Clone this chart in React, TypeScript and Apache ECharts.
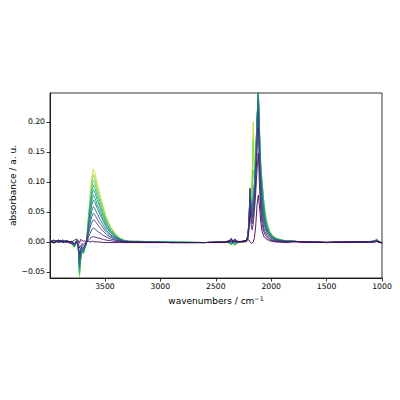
import React, { useEffect, useRef } from "react";
import * as echarts from "echarts";

// wavenumber grid (cm^-1), descending
const wavenumbers = [
  3996, 3960, 3920, 3880, 3840, 3800, 3775, 3755, 3740, 3730, 3720, 3708, 3695, 3680, 3668, 3650, 3635, 3620, 3605, 3590, 3570, 3545, 3515, 3485, 3450, 3410, 3370, 3330, 3290,
  3200, 2900, 2600, 2420, 2380, 2360, 2345, 2330, 2300, 2260,
  2225, 2210, 2200, 2191, 2182, 2172, 2162, 2152, 2140, 2128, 2116, 2106, 2095, 2082, 2068, 2052, 2035, 2015, 1990, 1960, 1920, 1870,
  1800, 1650, 1500, 1350, 1200, 1080, 1060, 1048, 1030, 1000,
];

const spectrum00 = [
  0.001, -0.002, 0.002, -0.001, 0.001, 0.0, 0.003, 0.005, 0.002, -0.002, 0.004, 0.003, 0.001, 0.002, 0.0, 0.001, 0.0, 0.001, 0.001, 0.0, 0.0, 0.0, -0.001, -0.001, -0.001, -0.001, -0.001, -0.001, -0.001,
  -0.001, -0.001, -0.001, -0.001, 0.0, 0.001, 0.0, 0.001, 0.0, 0.001,
  0.002, 0.004, 0.003, 0.0, -0.002, -0.002, 0.0, 0.006, 0.025, 0.062, 0.078, 0.06, 0.035, 0.018, 0.01, 0.006, 0.004, 0.002, 0.001, 0.0, 0.0, -0.001,
  0.0, -0.001, 0.0, -0.001, 0.0, 0.0, 0.0, 0.001, 0.0, -0.001,
];
const spectrum01 = [
  0.002, -0.001, 0.003, 0.0, 0.002, -0.002, -0.002, 0.001, -0.003, -0.01, -0.006, -0.003, -0.004, -0.002, -0.001, 0.003, 0.006, 0.008, 0.009, 0.008, 0.007, 0.006, 0.004, 0.003, 0.002, 0.001, 0.001, 0.0, 0.0,
  -0.001, -0.001, -0.001, 0.0, 0.002, 0.005, 0.001, 0.004, 0.0, 0.0,
  0.001, 0.005, 0.02, 0.055, 0.03, 0.02, 0.03, 0.05, 0.08, 0.12, 0.148, 0.095, 0.055, 0.03, 0.018, 0.011, 0.007, 0.004, 0.002, 0.001, 0.0, 0.0,
  0.001, 0.0, -0.001, 0.0, 0.0, 0.0, 0.001, 0.001, 0.0, -0.002,
];
const spectrum02 = [
  0.001, 0.003, -0.001, 0.002, -0.001, 0.001, -0.003, 0.001, -0.005, -0.02, -0.011, -0.006, -0.007, -0.004, -0.001, 0.008, 0.014, 0.02, 0.023, 0.022, 0.018, 0.015, 0.011, 0.008, 0.005, 0.003, 0.001, 0.001, 0.0,
  0.0, -0.001, -0.001, 0.0, 0.002, 0.006, 0.001, 0.005, 0.001, 0.001,
  0.002, 0.008, 0.03, 0.075, 0.04, 0.03, 0.04, 0.06, 0.095, 0.15, 0.19, 0.12, 0.07, 0.04, 0.024, 0.015, 0.01, 0.006, 0.003, 0.002, 0.001, 0.0,
  0.001, 0.0, -0.001, 0.0, 0.0, 0.0, 0.001, 0.002, 0.0, -0.002,
];
const spectrum03 = [
  -0.001, 0.002, 0.001, 0.003, 0.0, -0.003, -0.004, 0.001, -0.007, -0.028, -0.015, -0.008, -0.01, -0.005, -0.002, 0.013, 0.023, 0.032, 0.037, 0.035, 0.03, 0.024, 0.018, 0.012, 0.008, 0.004, 0.002, 0.001, 0.0,
  0.0, -0.001, -0.001, 0.0, 0.001, 0.004, 0.0, 0.003, 0.0, 0.001,
  0.002, 0.01, 0.035, 0.088, 0.05, 0.038, 0.05, 0.068, 0.105, 0.165, 0.215, 0.14, 0.085, 0.05, 0.032, 0.021, 0.014, 0.009, 0.005, 0.003, 0.002, 0.001,
  0.001, 0.0, -0.001, 0.0, 0.0, 0.0, 0.001, 0.001, 0.0, -0.001,
];
const spectrum04 = [
  0.002, -0.001, 0.003, 0.0, 0.002, -0.002, -0.005, 0.002, -0.008, -0.033, -0.018, -0.01, -0.012, -0.006, -0.002, 0.017, 0.03, 0.042, 0.048, 0.045, 0.038, 0.031, 0.023, 0.016, 0.01, 0.006, 0.003, 0.001, 0.0,
  0.0, -0.001, -0.001, 0.0, 0.001, 0.003, 0.0, 0.002, 0.0, 0.001,
  0.002, 0.011, 0.037, 0.09, 0.055, 0.042, 0.055, 0.075, 0.115, 0.18, 0.23, 0.155, 0.095, 0.06, 0.038, 0.025, 0.016, 0.01, 0.006, 0.004, 0.002, 0.001,
  0.001, 0.0, -0.001, 0.0, 0.0, 0.001, 0.001, 0.002, 0.0, -0.002,
];
const spectrum05 = [
  0.001, 0.003, -0.001, 0.002, -0.001, 0.001, -0.006, 0.002, -0.01, -0.038, -0.021, -0.011, -0.013, -0.007, -0.002, 0.021, 0.037, 0.051, 0.059, 0.055, 0.047, 0.038, 0.028, 0.019, 0.012, 0.007, 0.004, 0.001, 0.001,
  0.0, -0.001, -0.001, 0.0, 0.0, 0.001, -0.001, 0.001, 0.0, 0.001,
  0.002, 0.011, 0.037, 0.088, 0.058, 0.046, 0.06, 0.08, 0.122, 0.19, 0.24, 0.165, 0.105, 0.07, 0.044, 0.028, 0.018, 0.012, 0.007, 0.004, 0.002, 0.001,
  0.001, 0.0, -0.001, 0.0, 0.0, 0.001, 0.002, 0.002, 0.0, -0.002,
];
const spectrum06 = [
  -0.001, 0.002, 0.001, 0.003, 0.0, -0.003, -0.006, 0.002, -0.011, -0.042, -0.023, -0.013, -0.015, -0.008, -0.003, 0.025, 0.043, 0.061, 0.07, 0.066, 0.056, 0.046, 0.034, 0.023, 0.015, 0.008, 0.004, 0.002, 0.001,
  0.0, -0.001, -0.001, 0.0, 0.0, -0.001, -0.001, -0.001, 0.0, 0.001,
  0.002, 0.011, 0.036, 0.085, 0.06, 0.05, 0.065, 0.085, 0.128, 0.198, 0.25, 0.172, 0.112, 0.078, 0.05, 0.031, 0.02, 0.013, 0.008, 0.005, 0.003, 0.001,
  0.001, 0.0, -0.001, 0.0, 0.0, 0.001, 0.002, 0.003, 0.001, -0.002,
];
const spectrum07 = [
  0.002, -0.001, 0.003, 0.0, 0.002, -0.002, -0.007, 0.002, -0.011, -0.045, -0.025, -0.014, -0.016, -0.008, -0.003, 0.027, 0.048, 0.068, 0.078, 0.073, 0.062, 0.051, 0.037, 0.026, 0.016, 0.009, 0.005, 0.002, 0.001,
  0.0, -0.001, -0.001, 0.0, -0.001, -0.002, -0.001, -0.002, 0.0, 0.001,
  0.002, 0.01, 0.034, 0.08, 0.062, 0.054, 0.07, 0.09, 0.133, 0.203, 0.25, 0.178, 0.118, 0.085, 0.055, 0.034, 0.022, 0.014, 0.008, 0.005, 0.003, 0.002,
  0.001, 0.0, -0.001, 0.0, 0.0, 0.001, 0.002, 0.003, 0.001, -0.002,
];
const spectrum08 = [
  0.001, 0.003, -0.001, 0.002, -0.001, 0.001, -0.007, 0.002, -0.012, -0.048, -0.026, -0.014, -0.017, -0.009, -0.003, 0.03, 0.054, 0.076, 0.087, 0.082, 0.07, 0.057, 0.042, 0.029, 0.018, 0.01, 0.005, 0.002, 0.001,
  0.001, 0.0, -0.001, 0.0, -0.001, -0.003, -0.001, -0.003, -0.001, 0.001,
  0.001, 0.01, 0.033, 0.078, 0.063, 0.057, 0.075, 0.094, 0.137, 0.205, 0.25, 0.182, 0.123, 0.09, 0.06, 0.037, 0.024, 0.015, 0.009, 0.006, 0.003, 0.002,
  0.001, 0.0, -0.001, 0.0, 0.0, 0.001, 0.002, 0.004, 0.001, -0.002,
];
const spectrum09 = [
  -0.001, 0.002, 0.001, 0.003, 0.0, -0.003, -0.008, 0.003, -0.013, -0.051, -0.028, -0.015, -0.018, -0.009, -0.003, 0.033, 0.059, 0.083, 0.095, 0.089, 0.076, 0.062, 0.046, 0.031, 0.02, 0.011, 0.006, 0.002, 0.001,
  0.001, 0.0, -0.001, 0.0, -0.001, -0.004, -0.001, -0.004, -0.001, 0.0,
  0.001, 0.009, 0.031, 0.075, 0.064, 0.06, 0.085, 0.098, 0.14, 0.205, 0.245, 0.185, 0.128, 0.095, 0.064, 0.04, 0.026, 0.016, 0.01, 0.006, 0.003, 0.002,
  0.001, 0.0, -0.001, 0.0, 0.0, 0.001, 0.002, 0.004, 0.001, -0.002,
];
const spectrum10 = [
  0.002, -0.001, 0.003, 0.0, 0.002, -0.002, -0.008, 0.003, -0.014, -0.054, -0.03, -0.016, -0.019, -0.01, -0.003, 0.036, 0.064, 0.09, 0.103, 0.097, 0.082, 0.067, 0.049, 0.034, 0.022, 0.012, 0.006, 0.003, 0.001,
  0.001, 0.0, -0.001, 0.0, -0.001, -0.004, -0.002, -0.005, -0.001, 0.0,
  0.001, 0.008, 0.029, 0.07, 0.066, 0.075, 0.12, 0.105, 0.142, 0.205, 0.24, 0.186, 0.13, 0.1, 0.068, 0.043, 0.028, 0.017, 0.01, 0.006, 0.004, 0.002,
  0.001, 0.0, -0.001, 0.0, 0.0, 0.001, 0.003, 0.004, 0.001, -0.002,
];
const spectrum11 = [
  0.001, 0.003, -0.001, 0.002, -0.001, 0.001, -0.009, 0.003, -0.014, -0.057, -0.031, -0.017, -0.02, -0.01, -0.003, 0.039, 0.069, 0.097, 0.112, 0.105, 0.09, 0.073, 0.054, 0.037, 0.024, 0.013, 0.007, 0.003, 0.001,
  0.001, 0.0, -0.001, 0.0, -0.002, -0.005, -0.002, -0.005, -0.001, 0.0,
  0.0, 0.006, 0.026, 0.065, 0.072, 0.1, 0.17, 0.115, 0.145, 0.205, 0.25, 0.188, 0.132, 0.1, 0.07, 0.045, 0.029, 0.018, 0.011, 0.007, 0.004, 0.002,
  0.001, 0.0, -0.001, 0.0, 0.0, 0.001, 0.003, 0.005, 0.001, -0.002,
];
const spectrum12 = [
  -0.001, 0.002, 0.001, 0.003, 0.0, -0.003, -0.009, 0.003, -0.015, -0.058, -0.032, -0.017, -0.02, -0.01, -0.003, 0.042, 0.075, 0.105, 0.121, 0.114, 0.097, 0.079, 0.058, 0.04, 0.025, 0.015, 0.007, 0.003, 0.001,
  0.001, 0.0, -0.001, 0.0, -0.002, -0.005, -0.002, -0.006, -0.001, 0.0,
  0.0, 0.005, 0.024, 0.06, 0.075, 0.115, 0.2, 0.125, 0.148, 0.205, 0.25, 0.19, 0.135, 0.1, 0.071, 0.046, 0.03, 0.019, 0.011, 0.007, 0.004, 0.002,
  0.001, 0.0, -0.001, 0.0, 0.0, 0.001, 0.003, 0.005, 0.001, -0.002,
];

const spectra = [
  spectrum00, spectrum01, spectrum02, spectrum03, spectrum04, spectrum05, spectrum06,
  spectrum07, spectrum08, spectrum09, spectrum10, spectrum11, spectrum12,
];

// viridis colormap samples (0 .. 0.9)
const lineColors = [
  "#440154", "#481c6e", "#463480", "#3e4c8a", "#355f8d", "#2c728e", "#25848e",
  "#1f968b", "#22a884", "#39ba76", "#5ec962", "#8ad547", "#bddf26",
];

const xTicks = [3500, 3000, 2500, 2000, 1500, 1000];
const yTicks = [-0.05, 0, 0.05, 0.1, 0.15, 0.2];

const FONT = "DejaVu Sans";

export default function App() {
  const ref = useRef<HTMLDivElement>(null);

  useEffect(() => {
    document.body.style.margin = "0";
    if (!ref.current) return;
    const chart = echarts.init(ref.current, undefined, { renderer: "svg" });
    const axisLineStyle = { color: "#000", width: 0.8 };
    chart.setOption({
      animation: false,
      backgroundColor: "#fff",
      grid: {
        left: 50,
        right: 18,
        top: 93,
        bottom: 122,
        show: true,
        borderColor: "#000",
        borderWidth: 0.8,
        backgroundColor: "transparent",
        containLabel: false,
        outerBoundsMode: "none",
      },
      xAxis: {
        type: "value",
        inverse: true,
        min: 1000,
        max: 3996,
        name: "wavenumbers / cm{sup|−1}",
        nameLocation: "middle",
        nameGap: 17,
        nameMoveOverlap: false,
        nameTextStyle: {
          fontFamily: FONT,
          fontSize: 9,
          color: "#000",
          rich: {
            sup: { fontFamily: FONT, fontSize: 6.3, color: "#000", verticalAlign: "top", padding: [0, 0, 5, 0] },
          },
        },
        axisLine: { show: true, onZero: false, lineStyle: axisLineStyle },
        axisTick: { show: true, length: 3.5, lineStyle: axisLineStyle, customValues: xTicks },
        axisLabel: {
          fontFamily: FONT,
          fontSize: 7.7,
          color: "#000",
          margin: 4,
          customValues: xTicks,
          formatter: (v: number) => String(v),
        },
        splitLine: { show: false },
      },
      yAxis: {
        type: "value",
        min: -0.06,
        max: 0.248,
        name: "absorbance / a. u.",
        nameLocation: "middle",
        nameGap: 33,
        nameMoveOverlap: false,
        nameTextStyle: { fontFamily: FONT, fontSize: 9, color: "#000" },
        axisLine: { show: true, onZero: false, lineStyle: axisLineStyle },
        axisTick: { show: true, length: 3.5, lineStyle: axisLineStyle, customValues: yTicks },
        axisLabel: {
          fontFamily: FONT,
          fontSize: 7.7,
          color: "#000",
          margin: 5,
          customValues: yTicks,
          formatter: (v: number) => (v < -1e-9 ? "−" : "") + Math.abs(v).toFixed(2),
        },
        splitLine: { show: false },
      },
      series: spectra.map((s, i) => ({
        type: "line",
        data: wavenumbers.map((w, j) => [w, s[j]]),
        showSymbol: false,
        silent: true,
        clip: true,
        lineStyle: { width: 0.9, color: lineColors[i] },
        itemStyle: { color: lineColors[i] },
        z: 2 + (spectra.length - 1 - i),
      })),
    });
    return () => chart.dispose();
  }, []);

  return <div ref={ref} style={{ width: 400, height: 400 }} />;
}
